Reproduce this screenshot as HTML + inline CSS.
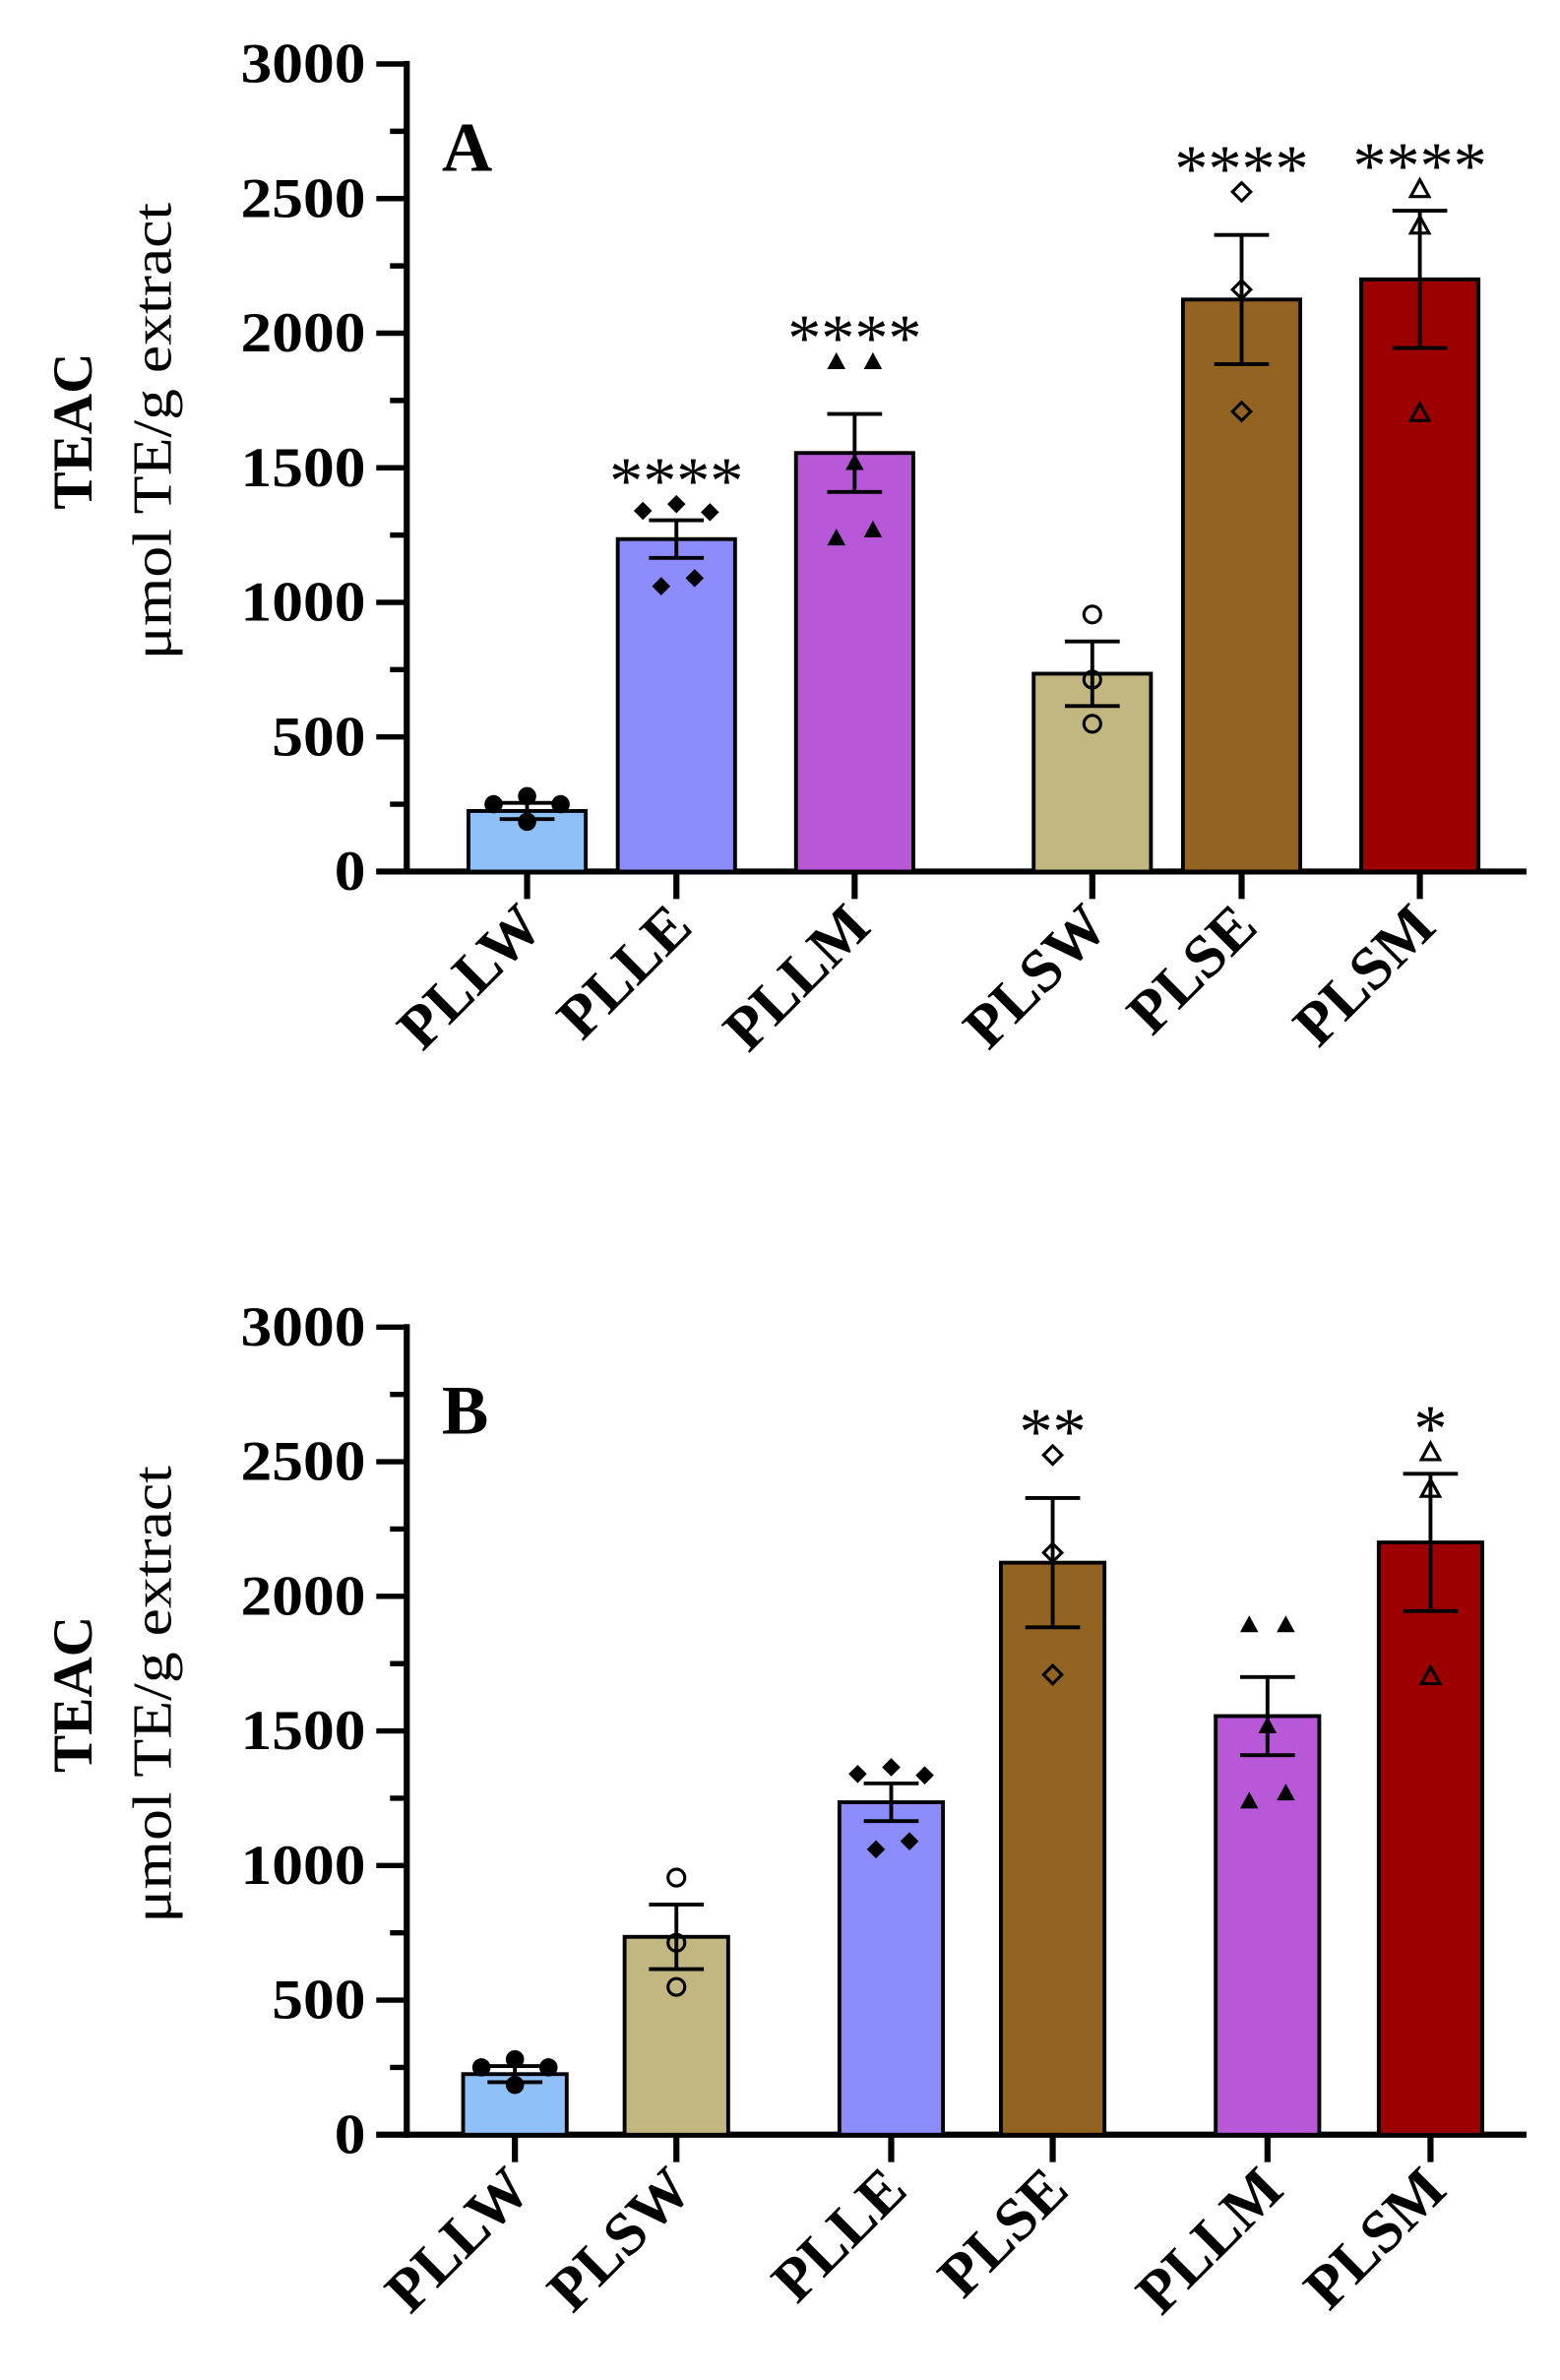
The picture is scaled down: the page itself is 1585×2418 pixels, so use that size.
<!DOCTYPE html>
<html><head><meta charset="utf-8"><style>
html,body{margin:0;padding:0;background:#fff;}
svg{display:block;}
text{font-family:"Liberation Serif",serif;}
</style></head><body>
<svg id="chart" width="1585" height="2418" viewBox="0 0 1024 1562" preserveAspectRatio="none" xmlns="http://www.w3.org/2000/svg"></svg>
<script>
const categories = ["PLLW","PLLE","PLLM","PLSW","PLSE","PLSM"];
const means = [225,1235,1555,735,2125,2200];
const sems = [30,70,145,120,240,255];
const pointsPLLW = [250,280,250,185];
const pointsPLLE = [1340,1365,1335,1060,1090];
const pointsPLLM = [1895,1895,1520,1240,1270];
const pointsPLSW = [955,713,549];
const pointsPLSE = [2525,2162,1709];
const pointsPLSM = [2536,2400,1704];
const starsA = ["","****","****","","****","****"];
const starsB = ["","","","**","","*"];
const orderB = ["PLLW","PLSW","PLLE","PLSE","PLLM","PLSM"];
const yTicks = [0,500,1000,1500,2000,2500,3000];

const points = [pointsPLLW,pointsPLLE,pointsPLLM,pointsPLSW,pointsPLSE,pointsPLSM];
const xOffsets = [[-22,0,22,0],[-22,0,22,-10,12],[-12,12,0,-12,12],[0,0,0],[0,0,0],[0,0,0]];
const colors = ["#90c0f8","#8c8cfc","#b857d8","#c2b780","#936322","#9c0000"];
const markers = ["circle","diamond","triangle","ocircle","odiamond","otriangle"];
const NS = "http://www.w3.org/2000/svg";
const svg = document.getElementById("chart");
function el(tag, attrs, parent){const e=document.createElementNS(NS,tag);for(const k in attrs)e.setAttribute(k,attrs[k]);(parent||svg).appendChild(e);return e;}

function drawPanel(cfg){
  const g = el("g",{});
  
  
  const y = v => cfg.y0 - (v/3000)*(cfg.y0-cfg.y3000);
  const ax = 267;
  const yl = el("line",{x1:ax,y1:cfg.y3000-2,x2:ax,y2:cfg.y0+2,stroke:"#000","stroke-width":4},g);
  
  
  for(let v=0; v<=3000; v+=250){
    const major = v%500===0;
    el("line",{x1:major?247:256,y1:y(v),x2:ax,y2:y(v),stroke:"#000","stroke-width":3.5},g);
  }
  yTicks.forEach(v=>{
    const s=String(v);
    const t=el("text",{x:240,y:y(v)+12,"text-anchor":"end","font-size":37,"font-weight":"bold",textLength:s.length*20.5,lengthAdjust:"spacingAndGlyphs"},g);
    t.textContent=s;
    
    
  });
  const xl = el("line",{x1:247,y1:cfg.y0,x2:1002,y2:cfg.y0,stroke:"#000","stroke-width":4},g);
  
  
  const t1=el("text",{x:0,y:0,"text-anchor":"middle","font-size":37,"font-weight":"bold",transform:`translate(60,${cfg.titleY}) rotate(-90)`},g);
  t1.textContent="TEAC";
  
  
  const t2=el("text",{x:0,y:0,"text-anchor":"middle","font-size":36,textLength:300,lengthAdjust:"spacingAndGlyphs",transform:`translate(112,${cfg.titleY}) rotate(-90)`},g);
  t2.textContent="μmol TE/g extract";
  
  
  const pl=el("text",{x:290,y:cfg.y3000+70,"font-size":46,"font-weight":"bold"},g);
  pl.textContent=cfg.letter;
  
  

  cfg.order.forEach((name,pos)=>{
    const i = categories.indexOf(name);
    const cx = cfg.centers[pos], w = cfg.barW;
    const bar=el("rect",{x:cx-w/2,y:y(means[i]),width:w,height:y(0)-y(means[i]),fill:colors[i],stroke:"#000","stroke-width":2.5},g);
    
    
    el("line",{x1:cx,y1:cfg.y0,x2:cx,y2:cfg.y0+18,stroke:"#000","stroke-width":4},g);
    const eb=el("path",{d:`M${cx},${y(means[i]-sems[i])}V${y(means[i]+sems[i])}M${cx-18},${y(means[i]+sems[i])}H${cx+18}M${cx-18},${y(means[i]-sems[i])}H${cx+18}`,stroke:"#000","stroke-width":2.5,fill:"none"},g);
    
    
    points[i].forEach((v,k)=>{
      const px=cx+(xOffsets[i][k]||0), py=y(v);
      const m=markers[i], open=m[0]==="o";
      const fill=open?"none":"#000";
      let p;
      if(m.endsWith("circle")) p=el("circle",{cx:px,cy:py,r:open?5.5:6,fill,stroke:"#000","stroke-width":open?2:0},g);
      else if(m.endsWith("diamond")) p=el("path",{d:`M${px},${py-6}L${px+6},${py}L${px},${py+6}L${px-6},${py}Z`,fill,stroke:"#000","stroke-width":open?2:0},g);
      else p=el("path",{d:`M${px},${py-6}L${px+6},${py+5}L${px-6},${py+5}Z`,fill,stroke:"#000","stroke-width":open?2:0},g);
      
      
    });
    const s = cfg.stars[pos];
    if(s){
      const top = Math.max(...points[i], means[i]+sems[i]) + 140;
      const st=el("text",{x:cx,y:y(top)+24,"text-anchor":"middle","font-size":44,"font-family":"Liberation Sans, sans-serif",textLength:s.length*22,lengthAdjust:"spacingAndGlyphs"},g);
      st.textContent=s;
      
      
    }
    const xlb=el("text",{x:0,y:0,"text-anchor":"end","font-size":40,"font-weight":"bold",transform:`translate(${cx+12},${cfg.y0+38}) rotate(-45)`},g);
    xlb.textContent=name;
    
    
  });
}
drawPanel({name:"panel-a",letter:"A",y0:572,y3000:42,titleY:283,barW:77,centers:[346,444,561,717,815,932],order:categories,stars:starsA});
drawPanel({name:"panel-b",letter:"B",y0:1401,y3000:871,titleY:1112,barW:68,centers:[338,444,585,691,832,939],order:orderB,stars:starsB});
</script>
</body></html>
